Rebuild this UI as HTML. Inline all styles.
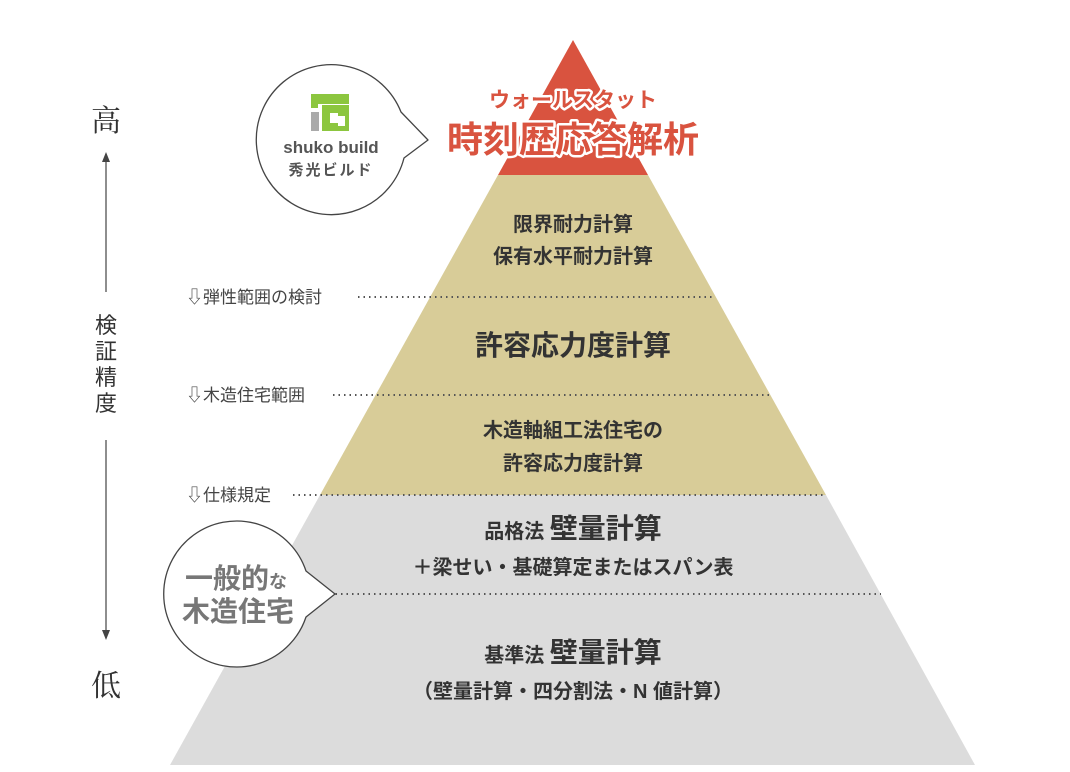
<!DOCTYPE html>
<html><head><meta charset="utf-8"><style>
html,body{margin:0;padding:0;background:#fff;}
svg{display:block;}
text{font-family:"Liberation Sans","Noto Sans CJK JP",sans-serif;}
</style></head><body>
<svg width="1070" height="772" viewBox="0 0 1070 772" xmlns="http://www.w3.org/2000/svg">
<polygon points="573,40 648,175 498,175" fill="#d9533f"/>
<polygon points="498,175 648,175 826,495 320,495" fill="#d8cc98"/>
<polygon points="320,495 826,495 975,765 170,765" fill="#dcdcdc"/>
<g stroke="#555" stroke-width="2" stroke-dasharray="1.5,4">
<line x1="358" y1="297" x2="713" y2="297"/>
<line x1="333" y1="395" x2="770" y2="395"/>
<line x1="293" y1="495" x2="826" y2="495"/>
<line x1="330" y1="594" x2="881" y2="594"/>
</g>
<g font-size="17" fill="#444">
<text x="186" y="303">⇩弾性範囲の検討</text>
<text x="186" y="401">⇩木造住宅範囲</text>
<text x="186" y="501">⇩仕様規定</text>
</g>
<g fill="#333" text-anchor="middle" style="font-family:'Noto Serif CJK SC',serif">
<text x="106" y="131" font-size="30" style="font-family:'Noto Serif CJK SC',serif">高</text>
<text x="106" y="696" font-size="30" style="font-family:'Noto Serif CJK SC',serif">低</text>
<g font-size="22" style="font-family:'Noto Serif CJK SC',serif">
<text x="106" y="333">検</text><text x="106" y="359">証</text><text x="106" y="385">精</text><text x="106" y="411">度</text>
</g>
</g>
<g stroke="#444" stroke-width="1.2" fill="none">
<line x1="106" y1="158" x2="106" y2="292"/>
<line x1="106" y1="440" x2="106" y2="635"/>
</g>
<polygon points="106,152 102,162 110,162" fill="#444"/>
<polygon points="106,640 102,630 110,630" fill="#444"/>
<!-- bubble logo: center (330,135) r 75 -->
<path d="M 401,112 A 75 75 0 1 0 404,158 L 428,140 Z" fill="#fff" stroke="#444" stroke-width="1.3" stroke-linejoin="round"/>
<rect x="311" y="94" width="38" height="10" fill="#8cc63f"/>
<rect x="311" y="104" width="7" height="4" fill="#8cc63f"/>
<rect x="322" y="105" width="27" height="26" fill="#8cc63f"/>
<rect x="311" y="112" width="8" height="19" fill="#aaa"/>
<rect x="330" y="113" width="8" height="10" fill="#fff"/>
<rect x="338" y="116" width="7" height="10" fill="#fff"/>
<text x="331" y="153" font-size="17" font-weight="bold" fill="#555" text-anchor="middle">shuko build</text>
<text x="331" y="175" font-size="15" font-weight="bold" fill="#555" text-anchor="middle" letter-spacing="2">秀光ビルド</text>
<g font-weight="bold" text-anchor="middle" fill="#d9533f" stroke="#fff" stroke-width="5" paint-order="stroke" stroke-linejoin="round">
<text x="573" y="107" font-size="21">ウォールスタット</text>
<text x="573" y="152" font-size="36">時刻歴応答解析</text>
</g>
<g font-weight="bold" fill="#333" text-anchor="middle">
<text x="573" y="231" font-size="20">限界耐力計算</text>
<text x="573" y="263" font-size="20">保有水平耐力計算</text>
<text x="573" y="355" font-size="28">許容応力度計算</text>
<text x="573" y="437" font-size="20">木造軸組工法住宅の</text>
<text x="573" y="470" font-size="20">許容応力度計算</text>
<text x="573" y="538" font-size="20">品格法 <tspan font-size="28">壁量計算</tspan></text>
<text x="573" y="574" font-size="20">＋梁せい・基礎算定またはスパン表</text>
<text x="573" y="662" font-size="20">基準法 <tspan font-size="28">壁量計算</tspan></text>
<text x="573" y="698" font-size="20">（壁量計算・四分割法・N 値計算）</text>
</g>
<!-- bubble 2: center (237,594) r 73 -->
<path d="M 306,571 A 73 73 0 1 0 306,617 L 335,594 Z" fill="#fff" stroke="#444" stroke-width="1.3" stroke-linejoin="round"/>
<g font-weight="bold" fill="#777">
<text x="185" y="588" font-size="28">一般的<tspan font-size="18">な</tspan></text>
<text x="182" y="621" font-size="28">木造住宅</text>
</g>
</svg>
</body></html>
